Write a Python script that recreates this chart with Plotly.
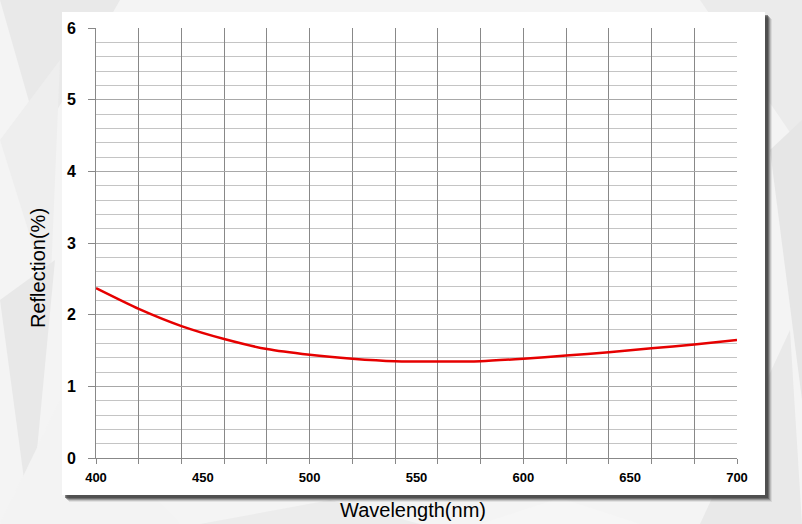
import plotly.graph_objects as go

# Data
wavelength = [400, 420, 440, 460, 480, 500, 520, 540, 560, 580, 600, 620, 640, 660, 680, 700]
reflection = [2.37, 2.08, 1.84, 1.66, 1.52, 1.44, 1.385, 1.35, 1.345, 1.35, 1.385, 1.43, 1.475, 1.53, 1.585, 1.645]

x_range = [400, 700]
y_range = [0, 6]
x_label_ticks = [400, 450, 500, 550, 600, 650, 700]

W, H = 802, 524
L, R, T, B = 96, 65, 28, 66
pw, ph = W - L - R, H - T - B


def px(xp):
    return (xp - L) / pw


def py(yp):
    return (H - B - yp) / ph


fig = go.Figure()

fig.add_trace(go.Scatter(
    x=wavelength, y=reflection, mode="lines",
    line=dict(color="#e60000", width=2.5, shape="spline", smoothing=0.6),
    hoverinfo="x+y", showlegend=False,
))
# invisible trace carrying the labelled axis
fig.add_trace(go.Scatter(
    x=wavelength, y=reflection, mode="lines", xaxis="x2",
    line=dict(color="rgba(0,0,0,0)", width=0), hoverinfo="skip", showlegend=False,
))

shapes = []
# decorative faint polygon background
polys = [
    ([(0, 0), (120, 0), (40, 140)], "#e9e9e9"),
    ([(0, 140), (60, 60), (50, 300)], "#eeeeee"),
    ([(0, 300), (55, 260), (30, 524)], "#e8e8e8"),
    ([(0, 524), (60, 400), (180, 524)], "#f3f3f3"),
    ([(700, 0), (802, 0), (802, 150)], "#ebebeb"),
    ([(770, 150), (802, 120), (802, 400)], "#e6e6e6"),
    ([(700, 524), (790, 330), (802, 524)], "#e9e9e9"),
    ([(200, 524), (330, 500), (420, 524)], "#ececec"),
    ([(480, 524), (560, 498), (640, 524)], "#f6f6f6"),
]
for pts, col in polys:
    path = "M " + " L ".join(f"{px(a)},{py(b)}" for a, b in pts) + " Z"
    shapes.append(dict(type="path", xref="paper", yref="paper", path=path,
                       fillcolor=col, line=dict(width=0), layer="below"))

# panel shadow
for off, op in [(7, 0.10), (6, 0.18), (5, 0.3), (4, 0.45), (3, 0.6)]:
    shapes.append(dict(type="rect", xref="paper", yref="paper",
                       x0=px(62 + off), x1=px(765 + off), y0=py(495 + off), y1=py(12 + off),
                       fillcolor=f"rgba(60,60,60,{op})", line=dict(width=0), layer="below"))
# white panel
shapes.append(dict(type="rect", xref="paper", yref="paper",
                   x0=px(62), x1=px(765), y0=py(495), y1=py(12),
                   fillcolor="white", line=dict(width=0), layer="below"))

fig.update_layout(
    width=W, height=H,
    margin=dict(l=L, r=R, t=T, b=B),
    paper_bgcolor="#f4f4f4",
    plot_bgcolor="rgba(0,0,0,0)",
    shapes=shapes,
    xaxis=dict(
        range=x_range, tick0=400, dtick=20, showgrid=True, gridcolor="#888888", gridwidth=1,
        ticks="outside", ticklen=5, tickcolor="#888888", showticklabels=False,
        showline=True, linecolor="#888888", linewidth=1, zeroline=False, fixedrange=True,
    ),
    xaxis2=dict(
        range=x_range, overlaying="x", side="bottom", anchor="y",
        tickvals=x_label_ticks, ticks="", showgrid=False, zeroline=False,
        tickfont=dict(family="Liberation Sans", size=13, color="black", weight="bold"),
        ticklabelstandoff=10, showline=False,
    ),
    yaxis=dict(
        range=y_range, dtick=1, showgrid=True, gridcolor="#a8a8a8", gridwidth=1,
        minor=dict(dtick=0.2, showgrid=True, gridcolor="#c4c4c4", gridwidth=1),
        ticks="outside", ticklen=7, tickcolor="#888888",
        tickfont=dict(family="Liberation Sans", size=16, color="black", weight="bold"),
        ticklabelstandoff=9,
        showline=True, linecolor="#888888", linewidth=1, zeroline=False,
    ),
    annotations=[
        dict(text="Reflection(%)", textangle=-90, xref="paper", yref="paper",
             x=px(38), y=py(268), xanchor="center", yanchor="middle", showarrow=False,
             font=dict(family="Liberation Sans", size=20, color="black")),
        dict(text="Wavelength(nm)", xref="paper", yref="paper",
             x=px(413), y=py(510), xanchor="center", yanchor="middle", showarrow=False,
             font=dict(family="Liberation Sans", size=20, color="black")),
    ],
)

fig.write_html("out.html", config={"displayModeBar": False},
               post_script="document.body.style.margin='0';document.body.style.overflow='hidden';")
